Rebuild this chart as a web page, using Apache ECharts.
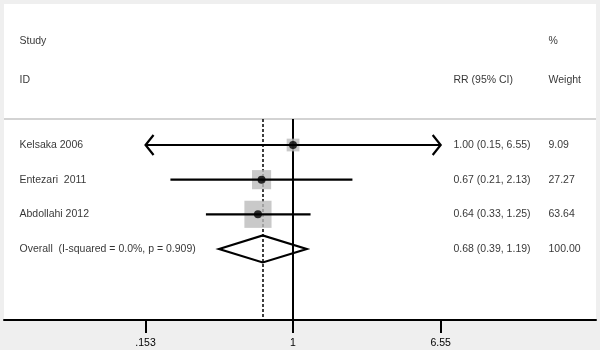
<!DOCTYPE html>
<html>
<head>
<meta charset="utf-8">
<script src="https://cdn.jsdelivr.net/npm/echarts@6/dist/echarts.min.js"></script>
<style>
  html, body { margin: 0; padding: 0; background: #efefef; }
  #chart { width: 600px; height: 350px; }
</style>
</head>
<body>
<div id="chart"></div>
<script>
// studies (rows 1..3)
const studies = ['Kelsaka 2006', 'Entezari  2011', 'Abdollahi 2012'];
const rr = [1.00, 0.67, 0.64];
const ciLow = [0.15, 0.21, 0.33];
const ciHigh = [6.55, 2.13, 1.25];
const weights = [9.09, 27.27, 63.64];

// pooled estimate (row 4)
const overallLabel = 'Overall  (I-squared = 0.0%, p = 0.909)';
const overallRR = 0.68;
const overallCI = [0.39, 1.19];
const overallWeight = 100.00;

const headerStudy = ['Study', 'ID'];
const headerCI = ['', 'RR (95% CI)'];
const headerWeight = ['%', 'Weight'];

const tickValues = [0.153, 1, 6.55];
const tickLabels = ['.153', '1', '6.55'];

// layout
const X_MIN = 0.02525, X_MAX = 47.3;   // log axis spans the whole panel
const Y_MIN = -3.07, Y_MAX = 6.05;
const HEADER_ROWS = [-2, -0.88];
const RULE_ROW = 0.25;
const COL_STUDY = 19, COL_CI = 453, COL_WEIGHT = 548;
const FONT = { fontFamily: 'Liberation Sans, Arial, sans-serif', fontSize: 10.5, color: '#000' };

const chart = echarts.init(document.getElementById('chart'));

const rows = studies.map((_, i) => i + 1);
const overallRow = studies.length + 1;
const fmt = (v) => v.toFixed(2);

// text cells on the pixel-like helper axis
const textData = [];
headerStudy.forEach((t, i) => textData.push({ name: t, value: [COL_STUDY, HEADER_ROWS[i]] }));
headerCI.forEach((t, i) => t && textData.push({ name: t, value: [COL_CI, HEADER_ROWS[i]] }));
headerWeight.forEach((t, i) => textData.push({ name: t, value: [COL_WEIGHT, HEADER_ROWS[i]] }));
studies.forEach((s, i) => {
  textData.push({ name: s, value: [COL_STUDY, rows[i]] });
  textData.push({ name: `${fmt(rr[i])} (${fmt(ciLow[i])}, ${fmt(ciHigh[i])})`, value: [COL_CI, rows[i]] });
  textData.push({ name: fmt(weights[i]), value: [COL_WEIGHT, rows[i]] });
});
textData.push({ name: overallLabel, value: [COL_STUDY, overallRow] });
textData.push({ name: `${fmt(overallRR)} (${fmt(overallCI[0])}, ${fmt(overallCI[1])})`, value: [COL_CI, overallRow] });
textData.push({ name: fmt(overallWeight), value: [COL_WEIGHT, overallRow] });

const rangeLo = tickValues[0], rangeHi = tickValues[tickValues.length - 1];

function renderCI(params, api) {
  const row = api.value(0), lo = api.value(1), hi = api.value(2);
  const a = api.coord([Math.max(lo, rangeLo), row]);
  const b = api.coord([Math.min(hi, rangeHi), row]);
  const style = { stroke: '#000', lineWidth: 2.2, fill: null };
  const children = [{ type: 'line', shape: { x1: a[0], y1: a[1], x2: b[0], y2: b[1] }, style }];
  if (lo < rangeLo) {
    children.push({ type: 'polyline', shape: { points: [[a[0] + 8, a[1] - 10], [a[0], a[1]], [a[0] + 8, a[1] + 10]] }, style });
  }
  if (hi >= rangeHi) {
    children.push({ type: 'polyline', shape: { points: [[b[0] - 8, b[1] - 10], [b[0], b[1]], [b[0] - 8, b[1] + 10]] }, style });
  }
  return { type: 'group', children };
}

function renderDiamond(params, api) {
  const row = api.value(0);
  const l = api.coord([api.value(1), row]);
  const m = api.coord([api.value(2), row]);
  const r = api.coord([api.value(3), row]);
  const h = 13.5;
  return {
    type: 'polygon',
    shape: { points: [[l[0], l[1]], [m[0], m[1] - h], [r[0], r[1]], [m[0], m[1] + h]] },
    style: { stroke: '#000', lineWidth: 2.2, fill: null }
  };
}

function tickFormatter(v) {
  let best = 0;
  tickValues.forEach((t, i) => {
    if (Math.abs(Math.log(t) - Math.log(v)) < Math.abs(Math.log(tickValues[best]) - Math.log(v))) best = i;
  });
  return tickLabels[best];
}

const option = {
  animation: false,
  grid: { left: 4, right: 4, top: 4, bottom: 30, show: true, backgroundColor: '#fff', borderWidth: 0 },
  xAxis: [
    {
      type: 'log',
      logBase: 10,
      min: X_MIN,
      max: X_MAX,
      position: 'bottom',
      axisLine: { show: true, onZero: false, lineStyle: { color: '#000', width: 2 } },
      axisTick: { show: true, customValues: tickValues, length: 13, lineStyle: { color: '#000', width: 2 } },
      axisLabel: { customValues: tickValues, formatter: tickFormatter, margin: 18, ...FONT },
      splitLine: { show: false },
      minorTick: { show: false }
    },
    { type: 'value', min: 4, max: 596, show: false }
  ],
  yAxis: { type: 'value', inverse: true, min: Y_MIN, max: Y_MAX, show: false },
  series: [
    {
      type: 'custom',
      name: 'ci',
      renderItem: renderCI,
      encode: { x: [1, 2], y: 0 },
      data: rows.map((r, i) => [r, ciLow[i], ciHigh[i]]),
      z: 3,
      silent: true,
      markLine: {
        silent: true,
        symbol: 'none',
        label: { show: false },
        z: 1,
        data: [
          { yAxis: RULE_ROW, lineStyle: { color: '#c4c4c4', width: 1.5, type: 'solid' } },
          [{ coord: [1, RULE_ROW], lineStyle: { color: '#000', width: 2, type: 'solid' } }, { coord: [1, Y_MAX] }],
          [{ coord: [overallRR, RULE_ROW], lineStyle: { color: '#000', width: 1.5, type: [3, 2] } }, { coord: [overallRR, Y_MAX] }]
        ]
      }
    },
    {
      type: 'scatter',
      name: 'weight',
      symbol: 'rect',
      symbolSize: (v) => 4 + 2.9 * Math.sqrt(v[2]),
      itemStyle: { color: '#bcbcbc' },
      data: rows.map((r, i) => [rr[i], r, weights[i]]),
      z: 2,
      silent: true
    },
    {
      type: 'scatter',
      name: 'estimate',
      symbol: 'circle',
      symbolSize: 8,
      itemStyle: { color: '#000' },
      data: rows.map((r, i) => [rr[i], r]),
      z: 4,
      silent: true
    },
    {
      type: 'custom',
      name: 'overall',
      renderItem: renderDiamond,
      encode: { x: [1, 2, 3], y: 0 },
      data: [[overallRow, overallCI[0], overallRR, overallCI[1]]],
      z: 4,
      silent: true
    },
    {
      type: 'scatter',
      name: 'text',
      xAxisIndex: 1,
      symbolSize: 1,
      itemStyle: { color: 'rgba(0,0,0,0)' },
      label: { show: true, position: 'right', distance: 0, formatter: '{b}', ...FONT },
      data: textData,
      z: 5,
      silent: true
    }
  ]
};

chart.setOption(option);
</script>
</body>
</html>
